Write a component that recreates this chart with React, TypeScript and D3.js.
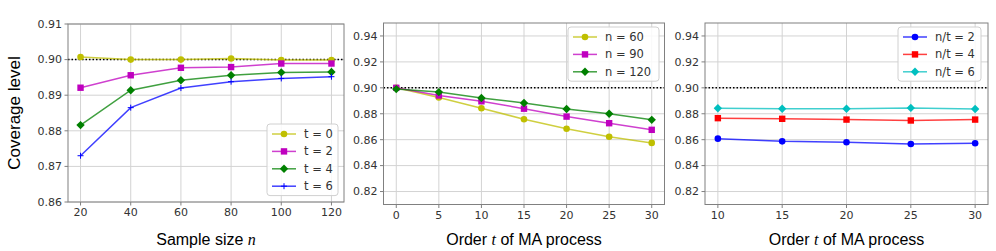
import * as d3 from "d3";
import React from "react";

// panel 1: coverage vs sample size n
const sampleSizes = [20, 40, 60, 80, 100, 120];
const cov_t0 = [0.90075, 0.9, 0.9, 0.9003, 0.8999, 0.8999];
const cov_t2 = [0.8921, 0.8956, 0.8977, 0.8979, 0.8989, 0.8989];
const cov_t4 = [0.8816, 0.8914, 0.8942, 0.8956, 0.8964, 0.8965];
const cov_t6 = [0.873, 0.8865, 0.892, 0.8938, 0.8947, 0.8952];

// panel 2: coverage vs order t, fixed n
const orders2 = [0, 5, 10, 15, 20, 25, 30];
const cov_n60 = [0.9, 0.8926, 0.8842, 0.8758, 0.8684, 0.8623, 0.8575];
const cov_n90 = [0.9, 0.8941, 0.8896, 0.8839, 0.8778, 0.8727, 0.8676];
const cov_n120 = [0.899, 0.8967, 0.8921, 0.8883, 0.8837, 0.88, 0.8753];

// panel 3: coverage vs order t, fixed n/t
const orders3 = [10, 15, 20, 25, 30];
const cov_r2 = [0.8608, 0.8587, 0.858, 0.8567, 0.8572];
const cov_r4 = [0.8766, 0.8761, 0.8755, 0.8748, 0.8755];
const cov_r6 = [0.8842, 0.8839, 0.8839, 0.8845, 0.8837];

const yTicks1 = [0.86, 0.87, 0.88, 0.89, 0.9, 0.91];
const yTicks23 = [0.82, 0.84, 0.86, 0.88, 0.9, 0.92, 0.94];
const nominal = 0.9;

type Marker = "o" | "s" | "D" | "+";
type Series = { label: string; color: string; marker: Marker; values: number[] };

const TICK_FONT = "DejaVu Sans, sans-serif";
const LABEL_FONT = "Liberation Sans, Arial, sans-serif";

function MarkerShape({ m, x, y, color }: { m: Marker; x: number; y: number; color: string }) {
  if (m === "o") return <circle cx={x} cy={y} r={3.3} fill={color} />;
  if (m === "s") return <rect x={x - 3.2} y={y - 3.2} width={6.4} height={6.4} fill={color} />;
  if (m === "D")
    return <path d={`M${x},${y - 4.2}L${x + 4.2},${y}L${x},${y + 4.2}L${x - 4.2},${y}Z`} fill={color} />;
  return <path d={`M${x - 3},${y}H${x + 3}M${x},${y - 3}V${y + 3}`} stroke={color} strokeWidth={1} />;
}

function Panel({
  frame,
  xs,
  xDomain,
  xTicks,
  yDomain,
  yTicks,
  series,
  legend,
  xLabel,
}: {
  frame: { left: number; right: number; top: number; bottom: number };
  xs: number[];
  xDomain: [number, number];
  xTicks: number[];
  yDomain: [number, number];
  yTicks: number[];
  series: Series[];
  legend: { x: number; y: number; w: number };
  xLabel: [string, string, string];
}) {
  const x = d3.scaleLinear().domain(xDomain).range([frame.left, frame.right]);
  const y = d3.scaleLinear().domain(yDomain).range([frame.bottom, frame.top]);
  const fmt = d3.format(".2f");
  const line = d3
    .line<number>()
    .x((_, i) => x(xs[i]))
    .y((d) => y(d));
  const cx = (frame.left + frame.right) / 2;
  const rowH = 17.4;
  const legH = series.length * rowH + 2;

  return (
    <g>
      {/* grid */}
      <g stroke="#d3d3d3" strokeWidth={1}>
        {xTicks.map((t) => (
          <line key={"gx" + t} x1={x(t)} x2={x(t)} y1={frame.top} y2={frame.bottom} />
        ))}
        {yTicks.map((t) => (
          <line key={"gy" + t} x1={frame.left} x2={frame.right} y1={y(t)} y2={y(t)} />
        ))}
      </g>
      <line
        x1={frame.left}
        x2={frame.right}
        y1={y(nominal)}
        y2={y(nominal)}
        stroke="#000"
        strokeWidth={1.5}
        strokeDasharray="1.5,2"
      />
      {series.map((s) => (
        <g key={s.label}>
          <path d={line(s.values) || ""} fill="none" stroke={s.color} strokeWidth={1.5} strokeOpacity={0.75} />
          {s.values.map((v, i) => (
            <MarkerShape key={i} m={s.marker} x={x(xs[i])} y={y(v)} color={s.color} />
          ))}
        </g>
      ))}
      {/* frame */}
      <rect
        x={frame.left}
        y={frame.top}
        width={frame.right - frame.left}
        height={frame.bottom - frame.top}
        fill="none"
        stroke="#808080"
        strokeWidth={1}
      />
      {/* ticks */}
      <g fontFamily={TICK_FONT} fontSize={11} fill="#333">
        {xTicks.map((t) => (
          <g key={"tx" + t}>
            <line x1={x(t)} x2={x(t)} y1={frame.bottom} y2={frame.bottom + 3.5} stroke="#808080" />
            <text x={x(t)} y={frame.bottom + 14} textAnchor="middle">
              {t}
            </text>
          </g>
        ))}
        {yTicks.map((t) => (
          <g key={"ty" + t}>
            <line x1={frame.left - 3.5} x2={frame.left} y1={y(t)} y2={y(t)} stroke="#808080" />
            <text x={frame.left - 6} y={y(t)} dy="0.35em" textAnchor="end">
              {fmt(t)}
            </text>
          </g>
        ))}
      </g>
      {/* x label */}
      <text x={cx} y={245} textAnchor="middle" fontFamily={LABEL_FONT} fontSize={16} fill="#000">
        {xLabel[0]}
        <tspan fontFamily="Liberation Serif, serif" fontStyle="italic">
          {xLabel[1]}
        </tspan>
        {xLabel[2]}
      </text>
      {/* legend */}
      <g>
        <rect
          x={legend.x}
          y={legend.y}
          width={legend.w}
          height={legH}
          rx={3}
          fill="#fff"
          fillOpacity={0.85}
          stroke="#d0d0d0"
        />
        {series.map((s, i) => {
          const ly = legend.y + 10 + i * rowH;
          return (
            <g key={"lg" + s.label}>
              <line
                x1={legend.x + 5}
                x2={legend.x + 29}
                y1={ly}
                y2={ly}
                stroke={s.color}
                strokeWidth={1.5}
                strokeOpacity={0.75}
              />
              <MarkerShape m={s.marker} x={legend.x + 17} y={ly} color={s.color} />
              <text
                x={legend.x + 37}
                y={ly}
                dy="0.35em"
                fontFamily={TICK_FONT}
                fontSize={11.5}
                fill="#333"
              >
                {s.label}
              </text>
            </g>
          );
        })}
      </g>
    </g>
  );
}

export default function App() {
  const s1: Series[] = [
    { label: "t = 0", color: "#bfbf00", marker: "o", values: cov_t0 },
    { label: "t = 2", color: "#bf00bf", marker: "s", values: cov_t2 },
    { label: "t = 4", color: "#008000", marker: "D", values: cov_t4 },
    { label: "t = 6", color: "#0000ff", marker: "+", values: cov_t6 },
  ];
  const s2: Series[] = [
    { label: "n = 60", color: "#bfbf00", marker: "o", values: cov_n60 },
    { label: "n = 90", color: "#bf00bf", marker: "s", values: cov_n90 },
    { label: "n = 120", color: "#008000", marker: "D", values: cov_n120 },
  ];
  const s3: Series[] = [
    { label: "n/t = 2", color: "#0000ff", marker: "o", values: cov_r2 },
    { label: "n/t = 4", color: "#ff0000", marker: "s", values: cov_r4 },
    { label: "n/t = 6", color: "#00bfbf", marker: "D", values: cov_r6 },
  ];
  return (
    <svg
      width={996}
      height={251}
      style={{ position: "absolute", left: 0, top: 0, background: "#fff" }}
    >
      <rect width={996} height={251} fill="#fff" />
      <text
        transform="translate(20,113) rotate(-90)"
        textAnchor="middle"
        fontFamily={LABEL_FONT}
        fontSize={17}
        fill="#000"
      >
        Coverage level
      </text>
      <Panel
        frame={{ left: 68, right: 344, top: 24, bottom: 202 }}
        xs={sampleSizes}
        xDomain={[15, 125]}
        xTicks={sampleSizes}
        yDomain={[0.86, 0.91]}
        yTicks={yTicks1}
        series={s1}
        legend={{ x: 267, y: 124, w: 71 }}
        xLabel={["Sample size ", "n", ""]}
      />
      <Panel
        frame={{ left: 383.5, right: 664.5, top: 23, bottom: 204.5 }}
        xs={orders2}
        xDomain={[-1.5, 31.5]}
        xTicks={orders2}
        yDomain={[0.81, 0.95]}
        yTicks={yTicks23}
        series={s2}
        legend={{ x: 568, y: 27, w: 91 }}
        xLabel={["Order ", "t", " of MA process"]}
      />
      <Panel
        frame={{ left: 705, right: 988, top: 23, bottom: 204.5 }}
        xs={orders3}
        xDomain={[9, 31]}
        xTicks={orders3}
        yDomain={[0.81, 0.95]}
        yTicks={yTicks23}
        series={s3}
        legend={{ x: 898, y: 27, w: 83 }}
        xLabel={["Order ", "t", " of MA process"]}
      />
    </svg>
  );
}
